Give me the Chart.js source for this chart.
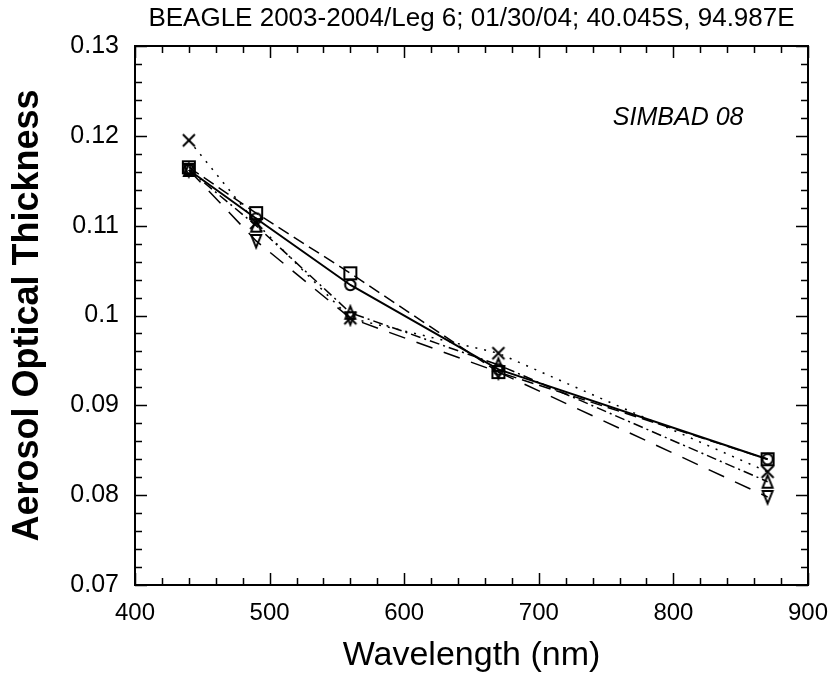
<!DOCTYPE html>
<html>
<head>
<meta charset="utf-8">
<script src="https://cdn.jsdelivr.net/npm/chart.js@4.4.1/dist/chart.umd.min.js"></script>
<style>
  html, body { margin: 0; padding: 0; background: #fff; }
  #wrap { width: 836px; height: 676px; }
</style>
</head>
<body>
<div id="wrap"><canvas id="aot"></canvas></div>
<script>
// wavelengths (nm) and AOT per instrument series
const wavelengths = [440, 490, 560, 670, 870];
const circleVals   = [0.1162, 0.1108, 0.1034, 0.0940, 0.0840];
const squareVals   = [0.1165, 0.1114, 0.1047, 0.0937, 0.0840];
const triUpVals    = [0.1162, 0.1100, 0.1003, 0.0945, 0.0815];
const triDownVals  = [0.1162, 0.1083, 0.0997, 0.0937, 0.0798];
const crossVals    = [0.1195, 0.1103, 0.0997, 0.0958, 0.0826];

const xTicks = [400, 500, 600, 700, 800, 900];
const yTicks = [0.07, 0.08, 0.09, 0.1, 0.11, 0.12, 0.13];
const yTickLabels = ['0.07', '0.08', '0.09', '0.1', '0.11', '0.12', '0.13'];

const titleText = 'BEAGLE 2003-2004/Leg 6; 01/30/04; 40.045S, 94.987E';
const noteText = 'SIMBAD 08';

const FONT = 'Liberation Sans, Arial, sans-serif';

// open marker glyphs drawn onto small canvases
function marker(kind) {
    const c = document.createElement('canvas');
    c.width = 18; c.height = 18;
    const g = c.getContext('2d');
    g.strokeStyle = '#000';
    g.lineWidth = 2;
    g.beginPath();
    if (kind === 'circle') {
        g.arc(9, 9, 5.2, 0, Math.PI * 2);
    } else if (kind === 'square') {
        g.rect(3, 3, 12, 12);
    } else if (kind === 'up') {
        g.moveTo(9, 2.5); g.lineTo(14, 15); g.lineTo(4, 15); g.closePath();
    } else if (kind === 'down') {
        g.moveTo(9, 15.5); g.lineTo(14, 3); g.lineTo(4, 3); g.closePath();
    } else if (kind === 'x') {
        g.moveTo(3, 3); g.lineTo(15, 15);
        g.moveTo(15, 3); g.lineTo(3, 15);
    }
    g.stroke();
    return c;
}

function series(vals, kind, dash, width) {
    return {
        data: wavelengths.map((w, i) => ({ x: w, y: vals[i] })),
        borderColor: '#000',
        backgroundColor: 'transparent',
        borderWidth: width,
        borderDash: dash,
        pointStyle: marker(kind),
        pointRadius: 6,
        tension: 0
    };
}

// frame, inward ticks on all sides, title and note
const framePlugin = {
    id: 'frame',
    afterDraw(chart) {
        const { ctx, chartArea: a, scales } = chart;
        const xs = scales.x, ys = scales.y;
        ctx.save();
        ctx.strokeStyle = '#000';
        ctx.lineWidth = 2;
        ctx.strokeRect(a.left, a.top, a.right - a.left, a.bottom - a.top);
        ctx.lineWidth = 1.5;
        ctx.beginPath();
        for (let v = 400; v <= 900; v += 20) {
            const px = Math.round(xs.getPixelForValue(v)) + 0.5;
            const len = v % 100 === 0 ? 12 : 7;
            ctx.moveTo(px, a.bottom); ctx.lineTo(px, a.bottom - len);
            ctx.moveTo(px, a.top); ctx.lineTo(px, a.top + len);
        }
        for (let k = 0; k <= 30; k++) {
            const v = 0.07 + k * 0.002;
            const py = Math.round(ys.getPixelForValue(v)) + 0.5;
            const len = k % 5 === 0 ? 12 : 7;
            ctx.moveTo(a.left, py); ctx.lineTo(a.left + len, py);
            ctx.moveTo(a.right, py); ctx.lineTo(a.right - len, py);
        }
        ctx.stroke();

        ctx.fillStyle = '#000';
        ctx.textAlign = 'center';
        ctx.textBaseline = 'middle';
        ctx.font = '26px ' + FONT;
        ctx.fillText(titleText, (a.left + a.right) / 2, 19);

        ctx.textAlign = 'left';
        ctx.font = 'italic 25px ' + FONT;
        ctx.fillText(noteText, xs.getPixelForValue(755), ys.getPixelForValue(0.122));
        ctx.restore();
    }
};

new Chart(document.getElementById('aot'), {
    type: 'line',
    data: {
        datasets: [
            series(circleVals, 'circle', [], 2),
            series(squareVals, 'square', [12, 6], 1.5),
            series(triUpVals, 'up', [10, 4, 2, 4], 1.5),
            series(triDownVals, 'down', [17, 12], 1.5),
            series(crossVals, 'x', [2, 7], 1.5)
        ]
    },
    options: {
        responsive: true,
        maintainAspectRatio: false,
        animation: false,
        layout: { padding: { top: 46, right: 28, left: 0, bottom: 0 } },
        plugins: { legend: { display: false }, tooltip: { enabled: false } },
        scales: {
            x: {
                type: 'linear',
                min: 400, max: 900,
                afterBuildTicks: s => { s.ticks = xTicks.map(v => ({ value: v })); },
                afterFit: s => { s.height = 91; s.paddingLeft = 0; s.paddingRight = 0; },
                grid: { display: false, drawTicks: false },
                border: { display: false },
                ticks: { color: '#000', font: { family: FONT, size: 24 }, padding: 14, maxRotation: 0 },
                title: { display: true, text: 'Wavelength (nm)', color: '#000',
                         font: { family: FONT, size: 34 }, padding: 0 }
            },
            y: {
                type: 'linear',
                min: 0.07, max: 0.13,
                afterBuildTicks: s => { s.ticks = yTicks.map(v => ({ value: v })); },
                afterFit: s => { s.width = 135; s.paddingTop = 0; s.paddingBottom = 0; },
                grid: { display: false, drawTicks: false },
                border: { display: false },
                ticks: {
                    color: '#000', font: { family: FONT, size: 25 }, padding: 16,
                    callback: v => yTickLabels[yTicks.findIndex(t => Math.abs(t - v) < 1e-6)]
                },
                title: { display: true, text: 'Aerosol Optical Thickness', color: '#000',
                         font: { family: FONT, size: 36, weight: 'bold' }, padding: { top: 6 } }
            }
        }
    },
    plugins: [framePlugin]
});
</script>
</body>
</html>
